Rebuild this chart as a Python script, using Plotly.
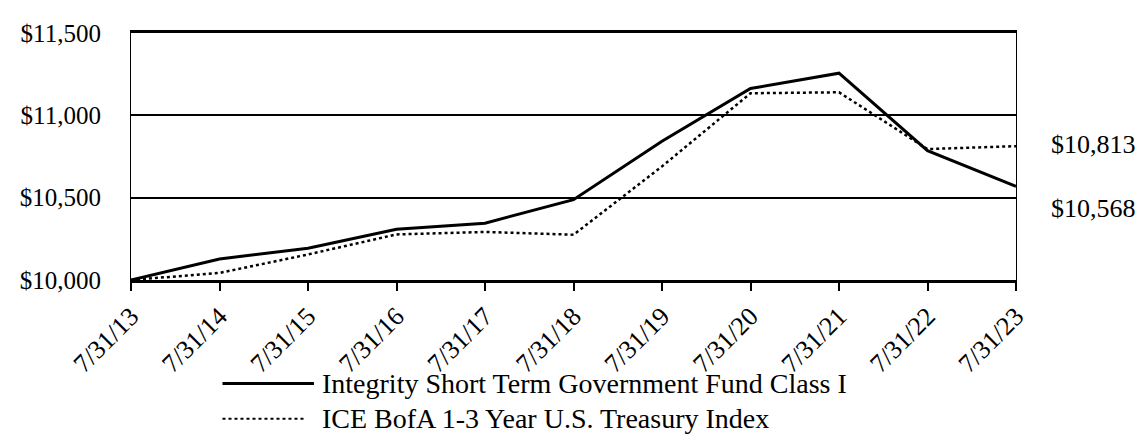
import plotly.graph_objects as go

dates = ["7/31/13", "7/31/14", "7/31/15", "7/31/16", "7/31/17", "7/31/18",
         "7/31/19", "7/31/20", "7/31/21", "7/31/22", "7/31/23"]
fund = [10000, 10128, 10193, 10308, 10345, 10488, 10843, 11163, 11256, 10785, 10568]
index = [10000, 10043, 10155, 10277, 10292, 10275, 10690, 11134, 11140, 10795, 10813]
fund_name = "Integrity Short Term Government Fund Class I"
index_name = "ICE BofA 1-3 Year U.S. Treasury Index"
y_ticks = [10000, 10500, 11000, 11500]
y_labels = ["$10,000", "$10,500", "$11,000", "$11,500"]

FONT = "Liberation Serif"
OFF = 8  # browser body margin
# plot area in page pixels
L, R, T, B = 126, 1016, 22, 280
W, H = 1148 - OFF, 434 - OFF

def px_x(p):
    return (p - L) / (R - L)

def px_y(p):
    return (B - p) / (B - T)

fig = go.Figure()
fig.add_trace(go.Scatter(x=dates, y=index, mode="lines", name=index_name,
                         line=dict(color="black", width=2.5, dash="dot")))
fig.add_trace(go.Scatter(x=dates, y=fund, mode="lines", name=fund_name,
                         line=dict(color="black", width=3)))

# end labels
fig.add_annotation(x=dates[-1], y=index[-1], text=f"${index[-1]:,}", showarrow=False,
                   xanchor="left", yanchor="middle", xshift=33, yshift=2,
                   font=dict(family=FONT, size=26, color="black"))
fig.add_annotation(x=dates[-1], y=fund[-1], text=f"${fund[-1]:,}", showarrow=False,
                   xanchor="left", yanchor="middle", xshift=33, yshift=-22,
                   font=dict(family=FONT, size=26, color="black"))

# manual legend
legend_rows = [(fund_name, "solid", 3, 388, 310), (index_name, "dot", 2, 425, 300)]
for name, dash, w, py, x_end in legend_rows:
    fig.add_shape(type="line", xref="paper", yref="paper",
                  x0=px_x(218), x1=px_x(x_end), y0=px_y(py), y1=px_y(py),
                  line=dict(color="black", width=w, dash=dash))
    fig.add_annotation(xref="paper", yref="paper", x=px_x(316), y=px_y(py),
                       text=name, showarrow=False, xanchor="left", yanchor="middle",
                       font=dict(family=FONT, size=28, color="black"))

fig.update_layout(
    width=W, height=H,
    margin=dict(l=L - OFF, r=1148 - R, t=T - OFF, b=434 - B),
    paper_bgcolor="white", plot_bgcolor="white",
    showlegend=False,
    font=dict(family=FONT, color="black"),
    xaxis=dict(type="category", range=[0, 10], showgrid=False,
               showline=True, mirror=True, linecolor="black", linewidth=2.5,
               ticks="outside", ticklen=8, tickwidth=2, tickcolor="black",
               tickangle=-45, tickfont=dict(family=FONT, size=26, color="black"),
               zeroline=False),
    yaxis=dict(range=[10000, 11500], tickvals=y_ticks, ticktext=y_labels,
               showgrid=True, gridcolor="black", gridwidth=1.5,
               showline=True, mirror=True, linecolor="black", linewidth=1.2,
               ticks="", ticklabelstandoff=24,
               tickfont=dict(family=FONT, size=25, color="black"),
               zeroline=False),
)

fig.write_html("out.html")
